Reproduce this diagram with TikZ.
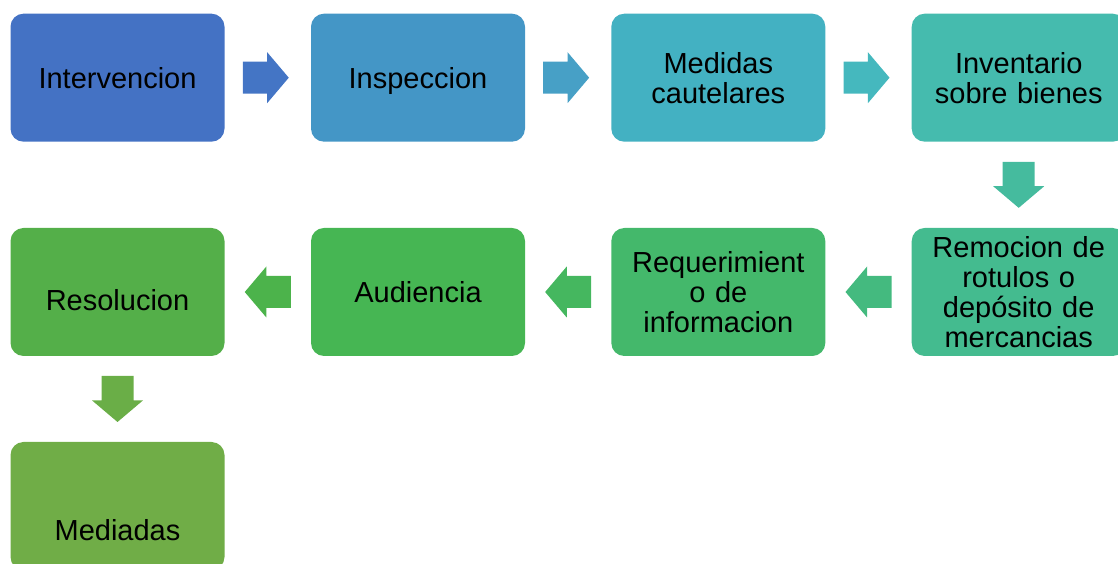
\documentclass[tikz,border=0pt]{standalone}
\usepackage{fontspec}
\setmainfont{Liberation Sans}
\usetikzlibrary{calc}
\definecolor{c1}{HTML}{4472C4}
\definecolor{c2}{HTML}{4496C6}
\definecolor{c3}{HTML}{43B1C2}
\definecolor{c4}{HTML}{45BBAE}
\definecolor{c5}{HTML}{44BB8F}
\definecolor{c6}{HTML}{44B86B}
\definecolor{c7}{HTML}{46B653}
\definecolor{c8}{HTML}{54AF49}
\definecolor{c9}{HTML}{70AD47}
\definecolor{a1}{HTML}{4475C5}
\definecolor{a2}{HTML}{47A0C6}
\definecolor{a3}{HTML}{45B8BE}
\definecolor{a4}{HTML}{45BB9E}
\definecolor{a5}{HTML}{44BA7F}
\definecolor{a6}{HTML}{45B75F}
\definecolor{a7}{HTML}{4CB34B}
\definecolor{a8}{HTML}{6AAE47}
\newcommand\barrow[5]{%
  \fill[#4, shift={($(#1)!0.5!(#2)$)}, rotate=#3, xshift=#5]
    (-23,-16) -- (1.4,-16) -- (1.4,-25.5) -- (23,0) -- (1.4,25.5) -- (1.4,16) -- (-23,16) -- cycle;}
\newcommand\mystrut{\rule[-6.2pt]{0pt}{33.2pt}}
\begin{document}
\begin{tikzpicture}[x=1pt,y=1pt,
  box/.style={rounded corners=13pt, minimum width=214pt, minimum height=128pt,
    inner sep=0pt, align=center, text width=210pt,
    font=\fontsize{29}{30}\selectfont},
  txt/.style={font=\fontsize{29}{30}\selectfont, inner sep=0pt}]
\useasboundingbox (0,0) rectangle (1118,564);
\clip (0,0) rectangle (1118,564);
\node[box, fill=c1] (int) at (117.5,486.3) {\mystrut Intervencion};
\node[box, fill=c2] (insp) at (418,486.3) {\mystrut Inspeccion};
\node[box, fill=c3] (med) at (718.3,486.3) {Medidas\\cautelares};
\node[box, fill=c4] (inv) at (1018.7,486.3) {Inventario\\sobre bienes};
\node[box, fill=c5] (rem) at (1018.7,272) {Remocion de\\rotulos o\\depósito de\\mercancias};
\node[box, fill=c6] (req) at (718.3,272) {Requerimient\\o de\\informacion};
\node[box, fill=c7] (aud) at (418,272) {\mystrut Audiencia};
\node[box, fill=c8, label={[txt, yshift=-8pt]center:\mystrut Resolucion}] (res) at (117.5,272) {};
\node[box, fill=c9, label={[txt, yshift=-24pt]center:\mystrut Mediadas}] (mdd) at (117.5,58) {};
\barrow{int.east}{insp.west}{0}{a1}{-2pt}
\barrow{insp.east}{med.west}{0}{a2}{-2pt}
\barrow{med.east}{inv.west}{0}{a3}{-2pt}
\barrow{inv.south}{rem.north}{-90}{a4}{0pt}
\barrow{rem.west}{req.east}{180}{a5}{0pt}
\barrow{req.west}{aud.east}{180}{a6}{0pt}
\barrow{aud.west}{res.east}{180}{a7}{0pt}
\barrow{res.south}{mdd.north}{-90}{a8}{0pt}
\end{tikzpicture}
\end{document}
